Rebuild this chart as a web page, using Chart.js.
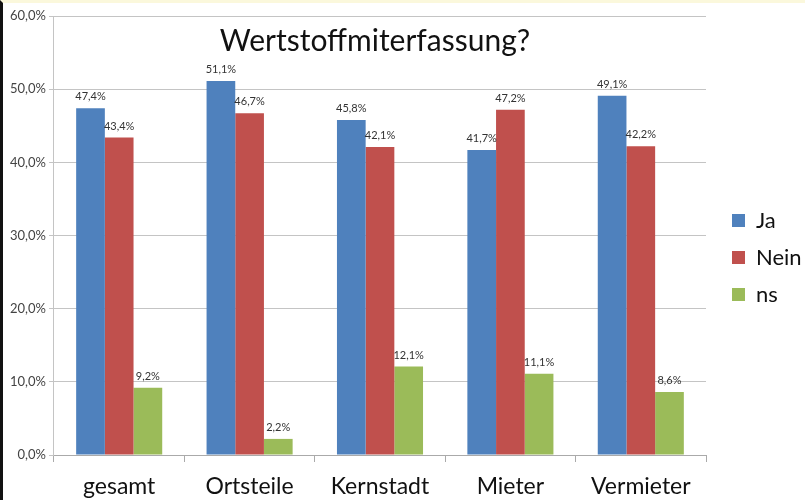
<!DOCTYPE html>
<html>
<head>
<meta charset="utf-8">
<script src="https://cdn.jsdelivr.net/npm/chart.js@4.4.1/dist/chart.umd.min.js"></script>
<style>
  html, body { margin: 0; padding: 0; background: #fff; }
  body { width: 802px; height: 497px; border-left: 3px solid #111; border-top: 3px solid #fbf8dc; }
  #wrap { width: 802px; height: 497px; position: relative; }
</style>
</head>
<body>
<div id="wrap"><canvas id="myChart"></canvas></div>
<script>
const categories = ['gesamt', 'Ortsteile', 'Kernstadt', 'Mieter', 'Vermieter'];
const jaValues = [47.4, 51.1, 45.8, 41.7, 49.1];
const neinValues = [43.4, 46.7, 42.1, 47.2, 42.2];
const nsValues = [9.2, 2.2, 12.1, 11.1, 8.6];
const chartTitle = 'Wertstoffmiterfassung?';

const FONT = 'Lato, "Open Sans", sans-serif';

function pct(v) {
  return v.toFixed(1).replace('.', ',') + '%';
}

// Wertebeschriftung über den Balken
const valueLabels = {
  id: 'valueLabels',
  afterDatasetsDraw(chart) {
    const ctx = chart.ctx;
    ctx.save();
    ctx.font = '11px ' + FONT;
    ctx.fillStyle = '#333';
    ctx.textAlign = 'center';
    ctx.textBaseline = 'bottom';
    chart.data.datasets.forEach((ds, i) => {
      chart.getDatasetMeta(i).data.forEach((bar, j) => {
        ctx.fillText(pct(ds.data[j]), bar.x, bar.y - 6);
      });
    });
    ctx.restore();
  }
};

// Titel im Diagrammbereich
const innerTitle = {
  id: 'innerTitle',
  afterDraw(chart) {
    const a = chart.chartArea;
    const ctx = chart.ctx;
    ctx.save();
    ctx.font = '30px ' + FONT;
    ctx.fillStyle = '#111';
    ctx.textAlign = 'center';
    ctx.textBaseline = 'middle';
    ctx.fillText(chartTitle, (a.left + a.right) / 2 - 5, a.top + 25);
    ctx.restore();
  }
};

const ctx = document.getElementById('myChart').getContext('2d');
const myChart = new Chart(ctx, {
  type: 'bar',
  data: {
    labels: categories,
    datasets: [
      { label: 'Ja', data: jaValues, backgroundColor: '#4F81BD' },
      { label: 'Nein', data: neinValues, backgroundColor: '#C0504D' },
      { label: 'ns', data: nsValues, backgroundColor: '#9BBB59' }
    ]
  },
  options: {
    responsive: true,
    maintainAspectRatio: false,
    animation: false,
    datasets: {
      bar: { categoryPercentage: 0.66, barPercentage: 1.0 }
    },
    layout: { padding: { left: 4, top: 13, right: 0, bottom: 1 } },
    plugins: {
      title: { display: false },
      tooltip: { enabled: false },
      legend: {
        position: 'right',
        align: 'center',
        maxWidth: 88,
        labels: {
          boxWidth: 13,
          boxHeight: 13,
          padding: 15,
          color: '#111',
          font: { family: FONT, size: 22 }
        }
      }
    },
    scales: {
      x: {
        grid: {
          drawOnChartArea: false,
          drawTicks: true,
          tickLength: 7,
          color: '#aaa',
          offset: true
        },
        border: { color: '#aaa' },
        ticks: {
          color: '#111',
          padding: 11,
          font: { family: FONT, size: 23 }
        },
        afterFit(scale) { scale.height = 44; }
      },
      y: {
        min: 0,
        max: 60,
        grid: { color: '#c4c4c4', tickLength: 5 },
        border: { color: '#c4c4c4' },
        ticks: {
          stepSize: 10,
          color: '#444',
          padding: 3,
          font: { family: FONT, size: 13 },
          callback: (v) => pct(v)
        }
      },
      // leere Achse rechts als Abstand zur Legende
      yGap: {
        position: 'right',
        display: true,
        min: 0,
        max: 60,
        grid: { display: false },
        border: { display: false },
        ticks: { display: false },
        afterFit(scale) { scale.width = 11; }
      }
    }
  },
  plugins: [valueLabels, innerTitle]
});
</script>
</body>
</html>
